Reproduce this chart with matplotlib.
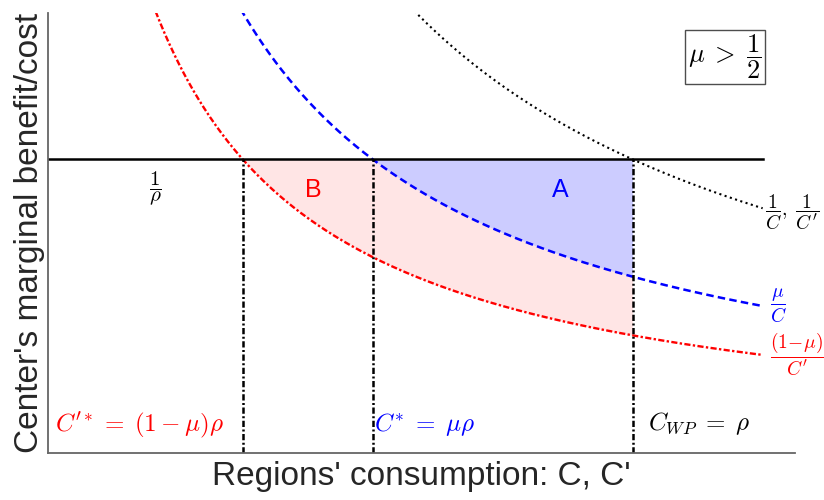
import numpy as np
import matplotlib
matplotlib.use("Agg")
import matplotlib.pyplot as plt

# model parameters
rho = 1.0
mu = 0.6
c_min, c_max = 0.1, 1.2

plt.rcParams['font.family'] = ['Liberation Sans', 'DejaVu Sans']
plt.rcParams['mathtext.fontset'] = 'cm'

c = np.linspace(c_min, c_max, 600)
mb_total = 1 / c
mb_center = mu / c
mb_region = (1 - mu) / c
cost = np.full_like(c, 1 / rho)

c_region_star = (1 - mu) * rho
c_center_star = mu * rho
c_wp = rho

fig = plt.figure(figsize=(8.24, 5), dpi=100)
ax = fig.add_axes([0.058, 0.0946, 0.907, 0.8800])

ax.plot(c, mb_total, ':', color='black', lw=1.5)
ax.plot(c, mb_center, color='blue', lw=1.8, dashes=(3, 1.7))
ax.plot(c, mb_region, color='red', lw=1.7, dashes=(2.6, 1, 1, 1))
ax.plot(c, cost, '-', color='black', lw=1.8)

# shaded areas
mask_b = (c >= c_region_star) & (c <= c_wp)
ax.fill_between(c[mask_b], mb_region[mask_b], np.minimum(mb_center, cost)[mask_b],
                color='red', alpha=0.1, lw=0)
mask_a = (c >= c_center_star) & (c <= c_wp)
ax.fill_between(c[mask_a], mb_center[mask_a], cost[mask_a],
                color='blue', alpha=0.2, lw=0)

for xv in [c_region_star, c_center_star, c_wp]:
    ax.plot([xv, xv], [0, 1 / rho], color='black', lw=1.8, dashes=(2.5, 1, 0.8, 1))

ax.text(0.265, 0.90, r'$\dfrac{1}{\rho}$', fontsize=15, ha='center', va='center')
ax.text(0.508, 0.895, 'B', color='red', fontsize=18, ha='center', va='center')
ax.text(0.889, 0.895, 'A', color='blue', fontsize=18, ha='center', va='center')
ax.text(1.203, 0.82, r"$\dfrac{1}{C},\ \dfrac{1}{C'}$", fontsize=14, va='center')
ax.text(1.211, 0.50, r'$\dfrac{\mu}{C}$', color='blue', fontsize=14, va='center')
ax.text(1.211, 0.335, r"$\dfrac{(1\!-\!\mu)}{C'}$", color='red', fontsize=14, va='center')
ax.text(0.111, 0.095, r"$C'^{*} \;=\; (1-\mu)\rho$", color='red', fontsize=18, va='center')
ax.text(0.6015, 0.095, r'$C^{*} \;=\; \mu\rho$', color='blue', fontsize=18, va='center')
ax.text(1.023, 0.10, r'$C_{WP} \;=\; \rho$', color='black', fontsize=18, va='center')
ax.text(1.142, 1.349, r'$\mu \;>\; \dfrac{1}{2}$', fontsize=19, ha='center', va='center',
        bbox=dict(boxstyle='square,pad=0.12', fc='white', ec='0.3', lw=1))

ax.set_xlim(0.1, 1.25)
ax.set_ylim(0, 1.5)
ax.set_xticks([])
ax.set_yticks([])
for side in ['top', 'right']:
    ax.spines[side].set_visible(False)
for side in ['left', 'bottom']:
    ax.spines[side].set_color('0.4')
    ax.spines[side].set_linewidth(1.3)

ax.set_xlabel("Regions' consumption: C, C'", fontsize=24, color='#262626', labelpad=6)
ax.set_ylabel("Center's marginal benefit/cost", fontsize=24, color='#262626', labelpad=2)

fig.savefig("out.png", dpi=100)
